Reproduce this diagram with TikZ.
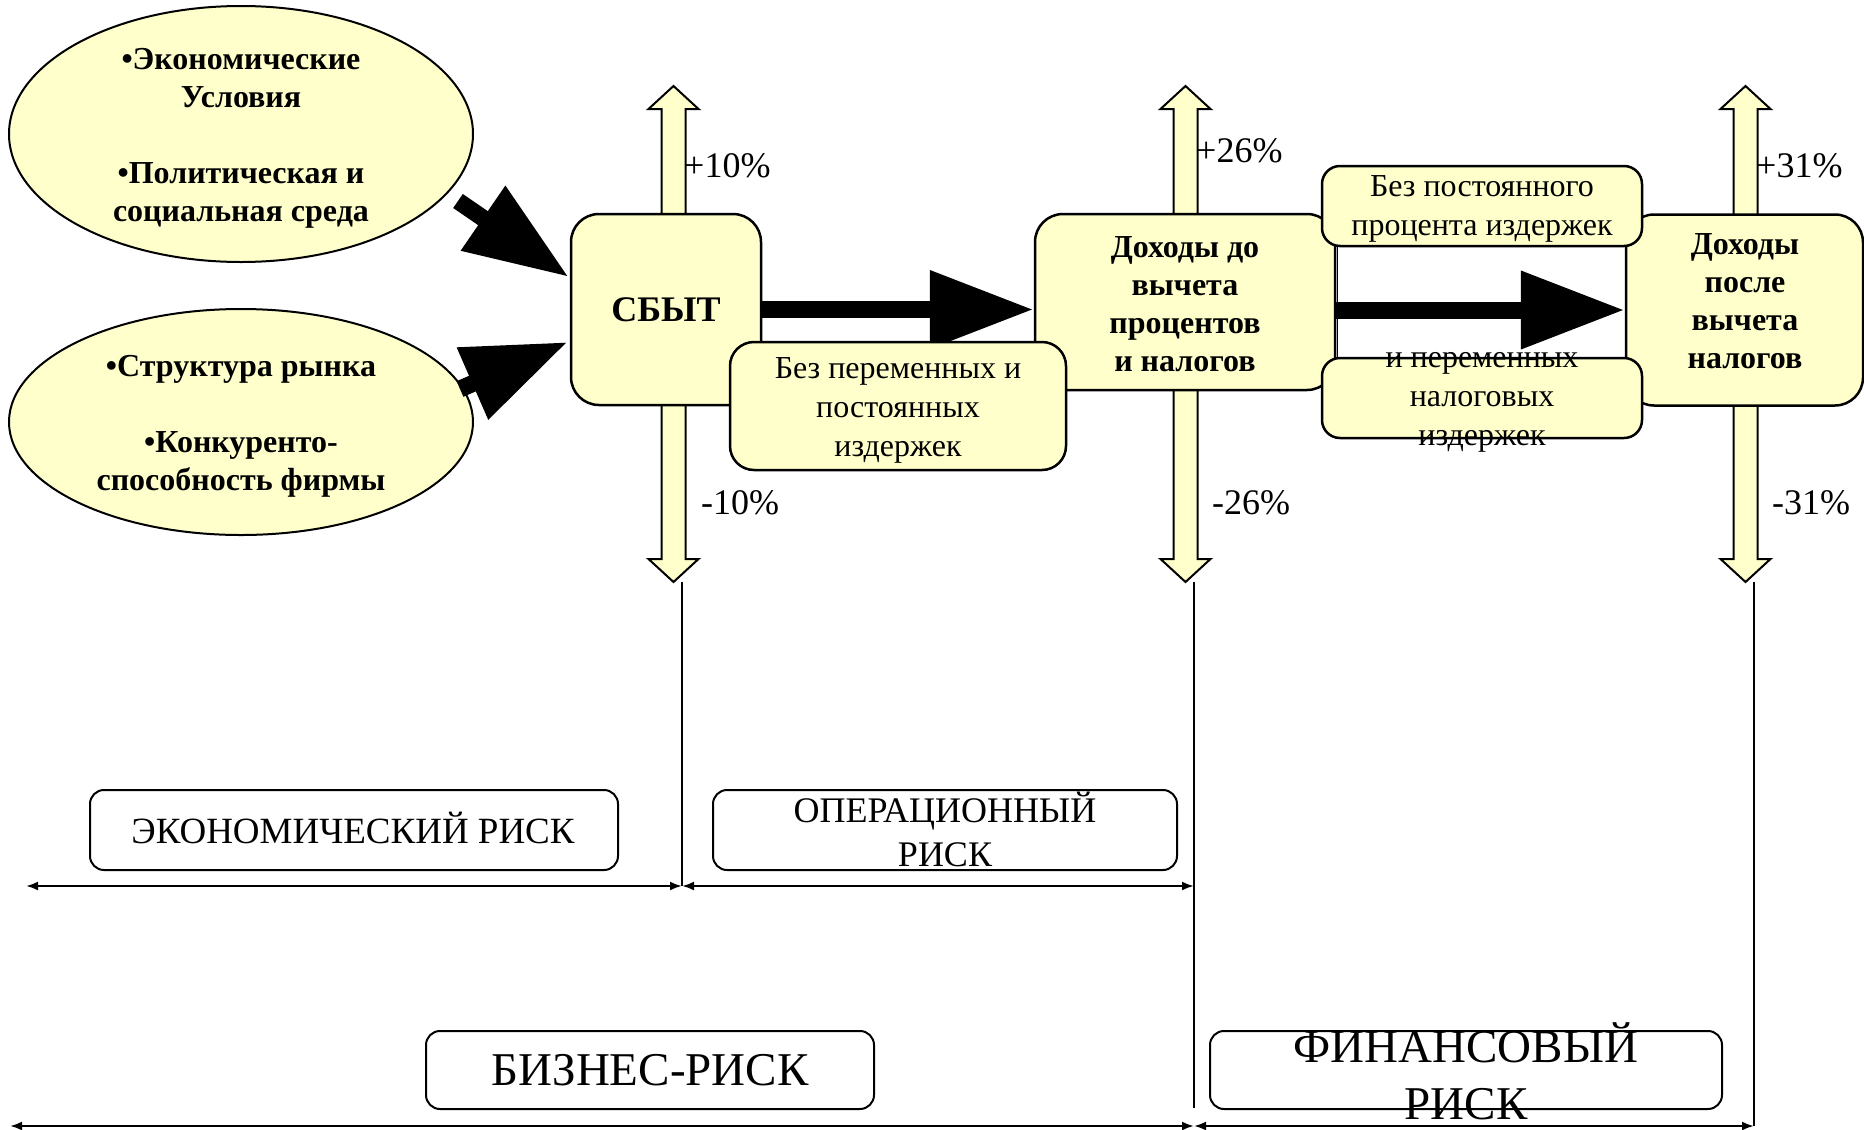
\documentclass[tikz,border=0pt]{standalone}
\usepackage{fontspec}
\setmainfont{Liberation Serif}
\usetikzlibrary{arrows.meta,shapes.geometric,calc}
\definecolor{paleyellow}{RGB}{255,255,204}

\begin{document}
\begin{tikzpicture}[x=1pt,y=1pt,yscale=-1,
	yellowbox/.style={draw,line width=2.5pt,fill=paleyellow,rounded corners=28pt,inner sep=0pt,align=center},
	riskbox/.style={draw,line width=2pt,fill=white,rounded corners=14pt,inner sep=0pt,align=center},
	factor/.style={draw,ellipse,line width=2pt,fill=paleyellow},
	blackarrow/.style={line width=17pt,-{Triangle[length=104pt,width=74pt]}},
	spanarrow/.style={line width=2.2pt,{Latex[length=12pt,width=9pt]}-{Latex[length=12pt,width=9pt]}},
	boldtext/.style={font=\fontsize{32}{38}\selectfont\bfseries,align=center,inner sep=0pt},
	costtext/.style={font=\fontsize{32}{39}\selectfont,align=center,inner sep=0pt},
	pct/.style={font=\fontsize{36}{43}\selectfont,anchor=west,inner sep=0pt}]
	\useasboundingbox (0,0) rectangle (1864,1130);
	
	%Shape: vertical double arrows
	\foreach \cx in {673.5,1185.5,1745.5}
	\draw [line width=2pt,fill=paleyellow] (\cx-12,109) -- (\cx-25,109) -- (\cx,86) -- (\cx+25,109) -- (\cx+12,109) -- (\cx+12,559) -- (\cx+25,559) -- (\cx,582) -- (\cx-25,559) -- (\cx-12,559) -- cycle ;
	
	%Shape: thin frame between the cost boxes
	\draw [line width=1pt] (1337,235) rectangle (1626,370) ;
	
	%Shape: factor ellipses
	\node [factor,minimum width=464pt,minimum height=256pt] (econ) at (241,134) {};
	\node [factor,minimum width=464pt,minimum height=226pt] (market) at (241,422) {};
	% Text Node
	\node [boldtext] at (241,138) {•Экономические\\Условия\\[38pt]•Политическая и\\социальная среда};
	% Text Node
	\node [boldtext] at (241,426) {•Структура рынка\\[38pt]•Конкуренто-\\способность фирмы};
	
	%Shape: income boxes
	\node [yellowbox,minimum width=190pt,minimum height=191pt] (sbyt) at (666,309.5) {\fontsize{36}{43}\selectfont\bfseries СБЫТ};
	\node [yellowbox,minimum width=300pt,minimum height=176pt] (ebit) at (1185,302) {};
	\node [yellowbox,minimum width=237pt,minimum height=191pt] (eat) at (1744.5,310) {};
	% Text Node
	\node [boldtext] at (1185,304) {Доходы до\\вычета\\процентов\\и налогов};
	% Text Node
	\node [boldtext] at (1745,301) {Доходы\\после\\вычета\\налогов};
	
	%Connectors: black arrows
	\coordinate (econ out) at (458,201);
	\coordinate (market out) at (460,389);
	\draw [blackarrow] (econ out) -- ($(sbyt.west)+(-1,-32.5)$);
	\draw [blackarrow] (market out) -- ($(sbyt.west)+(-2,32.5)$);
	\draw [blackarrow] (sbyt.east) -- (sbyt.east -| ebit.west);
	\draw [blackarrow] (eat.west -| ebit.east) -- (eat.west);
	
	%Shape: cost boxes
	\node [yellowbox,rounded corners=24pt,minimum width=336pt,minimum height=128pt] (varfix) at (898,406) {};
	\node [costtext] at (898,410) {Без переменных и\\постоянных\\издержек};
	\node [yellowbox,rounded corners=18pt,minimum width=320pt,minimum height=80pt] (fixint) at (1482,206) {};
	\node [costtext] at (1482,209) {Без постоянного\\процента издержек};
	\node [yellowbox,rounded corners=18pt,minimum width=320pt,minimum height=80pt] (vartax) at (1482,398) {};
	\node [costtext] at (1482,402) {и переменных\\налоговых\\издержек};
	
	% Text Node
	\node [pct] at (684,166) {+10\%};
	\node [pct] at (701,503) {-10\%};
	\node [pct] at (1196,151) {+26\%};
	\node [pct] at (1212,503) {-26\%};
	\node [pct] at (1756,166) {+31\%};
	\node [pct] at (1772,503) {-31\%};
	
	%Connectors: boundary lines
	\coordinate (cut1) at (682,582);
	\coordinate (cut2) at (1194,582);
	\coordinate (cut3) at (1754,582);
	\coordinate (row1 left) at (26,886);
	\coordinate (row2 left) at (10,1126);
	\draw [line width=1.5pt] (cut1) -- (cut1 |- row1 left);
	\draw [line width=1.5pt] (cut2) -- (1194,1108);
	\draw [line width=1.5pt] (cut3) -- (cut3 |- row2 left);
	\draw [spanarrow] (row1 left) -- (cut1 |- row1 left);
	\draw [spanarrow] (cut1 |- row1 left) -- (cut2 |- row1 left);
	\draw [spanarrow] (row2 left) -- (cut2 |- row2 left);
	\draw [spanarrow] (cut2 |- row2 left) -- (cut3 |- row2 left);
	
	%Shape: risk boxes
	\node [riskbox,minimum width=528pt,minimum height=80pt] (econrisk) at (354,830) {};
	\node [font=\fontsize{37}{44}\selectfont] at (353,828) {ЭКОНОМИЧЕСКИЙ РИСК};
	\node [riskbox,minimum width=464pt,minimum height=80pt] (oprisk) at (945,830) {};
	\node [font=\fontsize{36}{44}\selectfont,align=center] at (945,829) {ОПЕРАЦИОННЫЙ\\РИСК};
	\node [riskbox,minimum width=448pt,minimum height=78pt] (bizrisk) at (650,1070) {\fontsize{47}{57}\selectfont БИЗНЕС-РИСК};
	\node [riskbox,minimum width=512pt,minimum height=78pt] (finrisk) at (1466,1070) {};
	\node [font=\fontsize{47}{57}\selectfont,align=center] at (1466,1071) {ФИНАНСОВЫЙ\\РИСК};
	
\end{tikzpicture}
\end{document}
